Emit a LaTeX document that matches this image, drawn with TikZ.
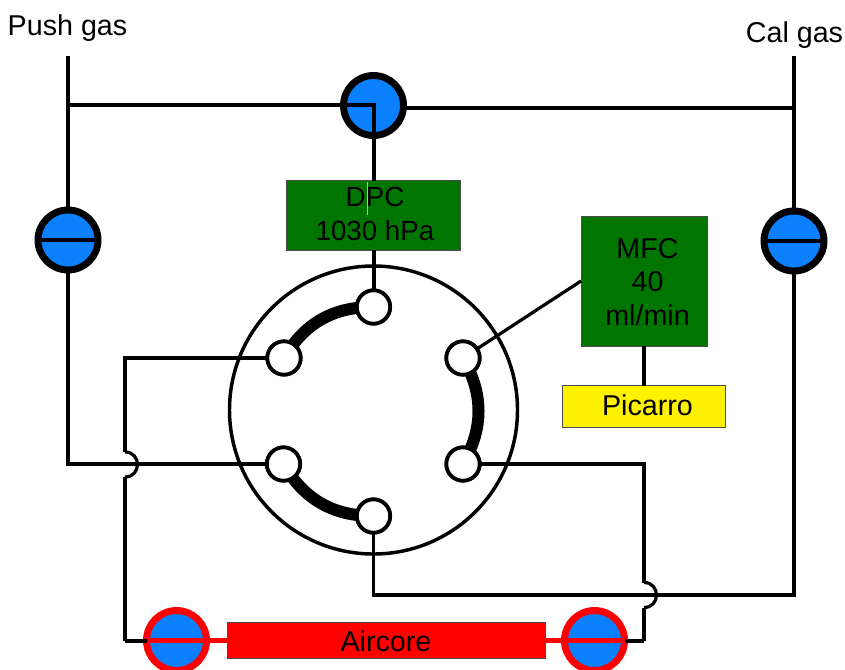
\documentclass[tikz,border=0pt]{standalone}
\usepackage{fontspec}
\setmainfont{Liberation Sans}
\usetikzlibrary{positioning}
\definecolor{valveblue}{RGB}{10,128,255}
\definecolor{boxgreen}{RGB}{0,118,0}
\tikzset{
	pipe/.style={line width=2.4pt,line join=miter},
	heavypipe/.style={line width=3pt,line join=miter},
	redpipe/.style={line width=3.5pt,red},
	valve/.style={circle,draw,fill=valveblue,line width=5.2pt,minimum size=45pt,inner sep=0pt,outer sep=0pt},
	port/.style={circle,draw,fill=white,line width=2.8pt,minimum size=25pt,inner sep=0pt,outer sep=0pt},
	box/.style={draw=black!70,line width=0.6pt,inner sep=0pt,outer sep=0pt,align=center},
	txt/.style={font=\fontsize{21.5}{25}\selectfont}
}
\begin{document}
\begin{tikzpicture}[x=0.75pt,y=-0.75pt]
	\useasboundingbox (0,0) rectangle (845,669);
	\draw node (push)[txt] at (67.5,28.5){Push gas};
	\draw node (cal)[txt] at (794.5,35.5){Cal gas};
	\coordinate (pushtop) at (68,56);
	\coordinate (caltop) at (794,56);
	\draw node (rotor)[circle,draw,line width=2.6pt,minimum size=216pt,inner sep=0pt,outer sep=0pt] at (373.5,410){};
	\draw node (top)[valve] at (373.5,105.5){};
	\draw node (left)[valve] at (68,240){};
	\draw node (right)[valve] at (794,241){};
	\draw node (dpc)[box,fill=boxgreen,minimum width=130pt,minimum height=52pt,txt] at (373.5,215.5){};
	\draw node (dpctext)[align=center,font=\fontsize{20.8}{25}\selectfont] at (375,214){DPC\\1030 hPa};
	\draw node (mfc)[box,fill=boxgreen,minimum width=94.5pt,minimum height=97pt] at (644,281.5){};
	\draw node (mfctext)[txt,align=center] at (647.5,282){MFC\\40\\ml/min};
	\draw node (picarro)[box,fill=yellow,minimum width=122pt,minimum height=31.5pt,below=29.5pt of mfc] {};
	\draw node (picarrotext)[txt] at (647.5,405){Picarro};
	\draw node (aircore)[box,fill=red,minimum width=238.5pt,minimum height=27pt] at (386,640.5){};
	\draw node (aircoretext)[txt] at (386,641){Aircore};
	\draw node (pa)[port] at (373.5,307){};
	\draw node (pb)[port] at (284,358){};
	\draw node (pc)[port] at (463,358){};
	\draw node (pd)[port] at (283.5,464){};
	\draw node (pe)[port] at (463,464){};
	\draw node (pf)[port] at (373.5,516){};
	\coordinate (hopa) at (125,452);
	\coordinate (hopb) at (125,477);
	\coordinate (hopc) at (644,582.5);
	\coordinate (hopd) at (644,607.5);
	\coordinate (juncl) at (68,105);
	\coordinate (juncr) at (794,108);
	\coordinate (endl) at (125,640.5);
	\coordinate (endr) at (644,640.5);
	\coordinate (mfcin) at (581,281);
	\coordinate (kink) at (373.5,595);
	\coordinate (dpctick) at (367,182);
	\coordinate (dpctickb) at (367,215);
	\draw node (lefta)[valve,draw=red] at (176.5,640.5){};
	\draw node (righta)[valve,draw=red] at (594.5,640.5){};
	% thick passages of the rotor
	\draw[line width=9pt] (pb.center) to[bend left=30] (pa.center);
	\draw[line width=9pt] (pc.center) to[bend left=30] (pe.center);
	\draw[line width=9pt] (pd.center) to[bend right=30] (pf.center);
	% gas lines
	\draw[heavypipe] (pushtop)--(left.north);
	\draw[pipe] (left.south)|-(pd.west);
	\draw[heavypipe] (juncl)--(top.center|-juncl)--(top.south);
	\draw[heavypipe] (top.south)--(dpc.north);
	\draw[heavypipe] (dpc.south)--(pa.north);
	\draw[heavypipe] (top.east|-juncr)--(juncr);
	\draw[heavypipe] (caltop)--(right.north);
	\draw[pipe] (right.south)|-(kink)--(pf.south);
	\draw[pipe] (pb.west)-|(hopa);
	\draw[pipe] (hopa) to[bend left=90,looseness=1.7] (hopb);
	\draw[pipe] (hopb)--(endl);
	\draw[heavypipe] (endl)--(lefta.west);
	\draw[pipe] (pe.east)-|(hopc);
	\draw[pipe] (hopc) to[bend left=90,looseness=1.7] (hopd);
	\draw[pipe] (hopd)--(endr);
	\draw[heavypipe] (endr)--(righta.east);
	\draw[pipe] (pc)--(mfcin);
	\draw[heavypipe] (mfc.south)--(picarro.north);
	\draw[heavypipe] (left.west)--(left.east);
	\draw[heavypipe] (right.west)--(right.east);
	\draw[redpipe] (lefta.west)--(aircore.west);
	\draw[redpipe] (aircore.east)--(righta.east);
	\draw[violet!35,line width=0.5pt] (dpctick)--(dpctickb);
	\draw node[port] at (pa){};
	\draw node[port] at (pb){};
	\draw node[port] at (pc){};
	\draw node[port] at (pd){};
	\draw node[port] at (pe){};
	\draw node[port] at (pf){};
\end{tikzpicture}
\end{document}
